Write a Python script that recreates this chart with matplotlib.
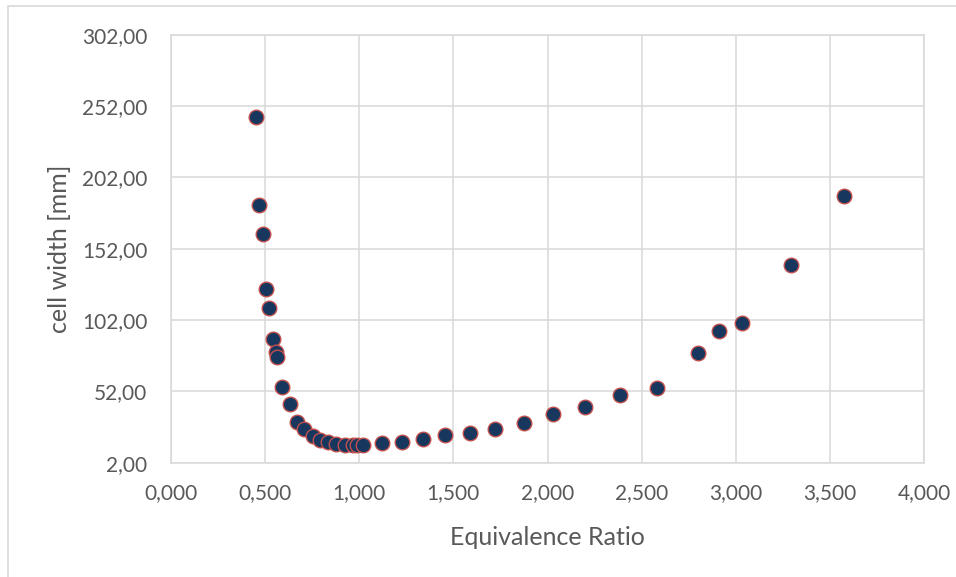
import matplotlib
matplotlib.use("Agg")
import matplotlib.pyplot as plt
from matplotlib.patches import Rectangle
from matplotlib.ticker import FuncFormatter

# equivalence ratio vs. detonation cell width
phi = [0.450, 0.466, 0.488, 0.505, 0.520, 0.541, 0.559, 0.564, 0.592, 0.631,
       0.669, 0.709, 0.752, 0.793, 0.833, 0.878, 0.926, 0.968, 0.988, 1.019,
       1.121, 1.227, 1.339, 1.457, 1.587, 1.723, 1.874, 2.030, 2.198, 2.385,
       2.580, 2.800, 2.911, 3.034, 3.293, 3.574]
cell_width = [244.5, 182.6, 162.0, 123.5, 110.2, 88.7, 79.8, 76.3, 55.3, 43.4,
              30.2, 25.4, 20.9, 17.6, 16.5, 15.3, 14.6, 14.3, 14.2, 14.2,
              15.8, 16.7, 18.4, 21.2, 22.6, 25.8, 30.0, 36.3, 41.2, 49.2,
              54.3, 78.7, 94.5, 99.7, 140.8, 188.7]

x_ticks = [0.0, 0.5, 1.0, 1.5, 2.0, 2.5, 3.0, 3.5, 4.0]
y_ticks = [2, 52, 102, 152, 202, 252, 302]

GRID = "#D9D9D9"
TEXT = "#595959"
plt.rcParams['font.family'] = ['Lato', 'DejaVu Sans']

fig = plt.figure(figsize=(9.56, 5.77), dpi=100)
ax = fig.add_axes([171/956, 1 - 462.7/577, (924 - 171)/956, (462.7 - 34.7)/577])

# thin frame round the whole chart area (right/bottom run off the image)
fig.patches.append(Rectangle((8/956, -0.05), 1.1, 1 - 6/577 + 0.05,
                             transform=fig.transFigure, fill=False,
                             edgecolor=GRID, linewidth=1.2))

ax.scatter(phi, cell_width, s=110, color="#17375E", edgecolors="#C0504D",
           linewidths=1.0, zorder=3)

ax.set_xlim(0, 4)
ax.set_ylim(2, 302)
ax.set_xticks(x_ticks)
ax.set_yticks(y_ticks)
ax.xaxis.set_major_formatter(FuncFormatter(lambda v, p: f"{v:.3f}".replace(".", ",")))
ax.yaxis.set_major_formatter(FuncFormatter(lambda v, p: f"{v:.2f}".replace(".", ",")))
ax.tick_params(length=0, labelsize=15, labelcolor=TEXT)
ax.tick_params(axis="y", pad=17)
ax.tick_params(axis="x", pad=15)
ax.grid(True, color=GRID, linewidth=1.1)
ax.set_axisbelow(True)
for sp in ax.spines.values():
    sp.set_color(GRID)
    sp.set_linewidth(1.1)

ax.set_xlabel("Equivalence Ratio", fontsize=18, color=TEXT, labelpad=16)
ax.set_ylabel("cell width [mm]", fontsize=18, color=TEXT, labelpad=8)

fig.savefig("out.png", dpi=100)
